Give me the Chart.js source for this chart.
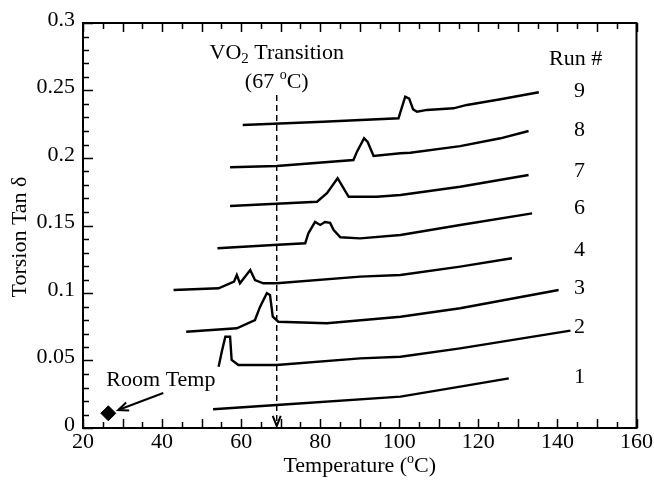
<!DOCTYPE html>
<html>
<head>
<meta charset="utf-8">
<script src="https://cdn.jsdelivr.net/npm/chart.js@4/dist/chart.umd.min.js"></script>
<style>
	html, body { margin: 0; padding: 0; background: #fff; }
	#wrap { width: 654px; height: 480px; }
</style>
</head>
<body>
<div id="wrap"><canvas id="chart-torsion"></canvas></div>
<script>
// Temperature (°C) and torsion tan δ readings for each run
const RUN1_T = [52.9, 69, 100.3, 115.4, 127.7];
const RUN1_V = [0.0139, 0.017, 0.0232, 0.0306, 0.0368];

const RUN2_T = [54.3, 55.1, 56, 57.2, 57.6, 59.3, 69, 90.1, 100.3, 115.4, 143.3];
const RUN2_V = [0.0454, 0.0565, 0.0676, 0.0676, 0.0504, 0.0467, 0.0467, 0.0516, 0.0528, 0.059, 0.0721];

const RUN3_T = [46.1, 58.9, 63.5, 64.8, 66.5, 67.3, 68, 69.4, 81.7, 100.3, 115.4, 140.3];
const RUN3_V = [0.0713, 0.0739, 0.08, 0.0899, 0.0998, 0.0985, 0.0824, 0.0787, 0.0776, 0.0824, 0.0887, 0.1022];

const RUN4_T = [42.9, 54.3, 58.2, 58.9, 59.7, 62.3, 63.5, 65.6, 69, 90.1, 100.3, 115.4, 128.5];
const RUN4_V = [0.1022, 0.1035, 0.1084, 0.1133, 0.1072, 0.117, 0.1096, 0.1072, 0.1072, 0.1121, 0.1133, 0.1195, 0.1257];

const RUN6_T = [54, 68.2, 76.2, 77, 78.7, 80, 81.2, 82.5, 83.4, 85.1, 90.1, 100.3, 115.4, 133.6];
const RUN6_V = [0.1331, 0.1356, 0.1368, 0.1442, 0.1526, 0.1504, 0.1526, 0.1519, 0.1467, 0.1413, 0.1405, 0.143, 0.1504, 0.159];

const RUN7_T = [57.2, 79.2, 81.7, 84.4, 85.7, 87.2, 94.3, 100.3, 115.4, 132.7];
const RUN7_V = [0.1644, 0.1676, 0.1739, 0.185, 0.1787, 0.1713, 0.1713, 0.1726, 0.1787, 0.1874];

const RUN8_T = [57.2, 69, 88.4, 89.3, 91.1, 92, 93.5, 100.3, 102.8, 115.4, 125.6, 132.7];
const RUN8_V = [0.1931, 0.1941, 0.1985, 0.2047, 0.2146, 0.2119, 0.2015, 0.2035, 0.2039, 0.2088, 0.2146, 0.22];

const RUN9_T = [60.4, 80.7, 99.8, 100.5, 101.5, 102.5, 103.5, 104.5, 107, 113.7, 117.1, 125.6, 135.3];
const RUN9_V = [0.2244, 0.2269, 0.2294, 0.236, 0.2454, 0.244, 0.236, 0.2343, 0.2356, 0.2368, 0.2393, 0.2435, 0.2487];

// Room temperature point and its pointer
const ROOM_T = [26.4];
const ROOM_V = [0.0109];
const ROOM_ARROW_T = [40.3, 28.9];
const ROOM_ARROW_V = [0.0259, 0.0133];

// VO2 transition marker
const VO2_T = [69, 69];
const VO2_V = [0.2467, 0.0015];

// Run labels at the right
const RUN_LABELS = ["9", "8", "7", "6", "4", "3", "2", "1"];
const RUN_LABEL_V = [0.2491, 0.2207, 0.1899, 0.1627, 0.1319, 0.1035, 0.0745, 0.0375];
const RUN_LABEL_T = 145.6;

// Axis ticks
const X_TICKS = [20, 40, 60, 80, 100, 120, 140, 160];
const Y_TICKS = [0, 0.05, 0.1, 0.15, 0.2, 0.25, 0.3];

const FONT = "'Liberation Serif', 'Times New Roman', serif";
const FONT_SIZE = 22;
const INK = "#000";

const toPoints = (xs, ys) => xs.map((x, i) => ({ x: x, y: ys[i] }));

const runLine = (label, xs, ys) => ({
	label: "Run " + label,
	data: toPoints(xs, ys),
	borderColor: INK,
	borderWidth: 2.4,
	pointRadius: 0,
	tension: 0,
	fill: false,
});

const CHART_DATA = {
	datasets: [
		runLine("1", RUN1_T, RUN1_V),
		runLine("2", RUN2_T, RUN2_V),
		runLine("3", RUN3_T, RUN3_V),
		runLine("4", RUN4_T, RUN4_V),
		runLine("6", RUN6_T, RUN6_V),
		runLine("7", RUN7_T, RUN7_V),
		runLine("8", RUN8_T, RUN8_V),
		runLine("9", RUN9_T, RUN9_V),
		{
			label: "VO2 Transition",
			data: toPoints(VO2_T, VO2_V),
			borderColor: INK,
			borderWidth: 1.5,
			borderDash: [6, 4],
			pointRadius: 0,
		},
		{
			label: "Room Temp arrow",
			data: toPoints(ROOM_ARROW_T, ROOM_ARROW_V),
			borderColor: INK,
			borderWidth: 2,
			pointRadius: 0,
		},
		{
			label: "Room Temp",
			data: toPoints(ROOM_T, ROOM_V),
			showLine: false,
			pointStyle: "rectRot",
			pointRadius: 7.5,
			backgroundColor: INK,
			borderColor: INK,
		},
	],
};

// Frame, inward ticks and annotation text
const decorations = {
	id: "decorations",
	afterDraw(chart) {
		const { ctx, chartArea: area, scales } = chart;
		const xs = scales.x;
		const ys = scales.y;
		ctx.save();
		ctx.strokeStyle = INK;
		ctx.fillStyle = INK;

		// frame
		ctx.lineWidth = 2;
		ctx.strokeRect(area.left, area.top, area.right - area.left, area.bottom - area.top);

		// inward ticks
		ctx.lineWidth = 1.5;
		ctx.beginPath();
		for (let t = 20; t <= 160; t += 5) {
			const px = Math.round(xs.getPixelForValue(t)) + 0.5;
			const len = t % 10 === 0 ? 9 : 6;
			ctx.moveTo(px, area.bottom);
			ctx.lineTo(px, area.bottom - len);
			ctx.moveTo(px, area.top);
			ctx.lineTo(px, area.top + len);
		}
		for (let i = 0; i <= 30; i++) {
			const py = Math.round(ys.getPixelForValue(i / 100)) + 0.5;
			const len = i % 5 === 0 ? 10 : 6;
			ctx.moveTo(area.left, py);
			ctx.lineTo(area.left + len, py);
		}
		ctx.stroke();

		// arrow heads
		ctx.lineWidth = 2;
		const tipX = xs.getPixelForValue(VO2_T[1]);
		const tipY = ys.getPixelForValue(VO2_V[1]);
		ctx.beginPath();
		ctx.moveTo(tipX - 4, tipY - 10);
		ctx.lineTo(tipX, tipY);
		ctx.lineTo(tipX + 4, tipY - 10);
		ctx.stroke();

		const ax0 = xs.getPixelForValue(ROOM_ARROW_T[0]);
		const ay0 = ys.getPixelForValue(ROOM_ARROW_V[0]);
		const ax1 = xs.getPixelForValue(ROOM_ARROW_T[1]);
		const ay1 = ys.getPixelForValue(ROOM_ARROW_V[1]);
		const ang = Math.atan2(ay1 - ay0, ax1 - ax0);
		ctx.beginPath();
		ctx.moveTo(ax1 - 11 * Math.cos(ang - 0.4), ay1 - 11 * Math.sin(ang - 0.4));
		ctx.lineTo(ax1, ay1);
		ctx.lineTo(ax1 - 11 * Math.cos(ang + 0.4), ay1 - 11 * Math.sin(ang + 0.4));
		ctx.stroke();

		// text
		ctx.font = FONT_SIZE + "px " + FONT;
		ctx.textBaseline = "middle";

		ctx.textAlign = "center";
		RUN_LABELS.forEach((lab, i) => {
			ctx.fillText(lab, xs.getPixelForValue(RUN_LABEL_T), ys.getPixelForValue(RUN_LABEL_V[i]));
		});
		ctx.fillText("Run #", xs.getPixelForValue(144.6), ys.getPixelForValue(0.2733));
		ctx.fillText("Room Temp", xs.getPixelForValue(39.7), ys.getPixelForValue(0.0356));

		// text with sub/superscripts, laid out piece by piece
		const drawPieces = (pieces, cx, cy) => {
			const widths = pieces.map((p) => {
				ctx.font = p.size + "px " + FONT;
				return ctx.measureText(p.text).width;
			});
			let x = cx - widths.reduce((a, b) => a + b, 0) / 2;
			ctx.textAlign = "left";
			pieces.forEach((p, i) => {
				ctx.font = p.size + "px " + FONT;
				ctx.fillText(p.text, x, cy + (p.dy || 0));
				x += widths[i];
			});
		};
		const vx = xs.getPixelForValue(69);
		drawPieces([
			{ text: "VO", size: FONT_SIZE },
			{ text: "2", size: 15, dy: 6 },
			{ text: " Transition", size: FONT_SIZE },
		], vx, ys.getPixelForValue(0.2778));
		drawPieces([
			{ text: "(67 ", size: FONT_SIZE },
			{ text: "o", size: 14, dy: -7 },
			{ text: "C)", size: FONT_SIZE },
		], vx, ys.getPixelForValue(0.2563));

		drawPieces([
			{ text: "Temperature (", size: FONT_SIZE },
			{ text: "o", size: 14, dy: -7 },
			{ text: "C)", size: FONT_SIZE },
		], (area.left + area.right) / 2, 466);

		ctx.save();
		ctx.translate(20, 237);
		ctx.rotate(-Math.PI / 2);
		ctx.textAlign = "center";
		ctx.font = FONT_SIZE + "px " + FONT;
		ctx.fillText("Torsion Tan \u03b4", 0, 0);
		ctx.restore();

		ctx.restore();
	},
};

const CHART_CONFIG = {
	type: "line",
	data: CHART_DATA,
	plugins: [decorations],
	options: {
		responsive: false,
		animation: false,
		layout: {
			padding: { top: 23, right: 17, left: 0, bottom: 0 },
		},
		scales: {
			x: {
				type: "linear",
				min: 20,
				max: 160,
				border: { display: false },
				grid: { display: false, drawTicks: false },
				afterBuildTicks: (scale) => {
					scale.ticks = X_TICKS.map((v) => ({ value: v }));
				},
				afterFit: (scale) => {
					scale.height = 52;
				},
				ticks: {
					color: INK,
					font: { family: FONT, size: FONT_SIZE },
					padding: 1,
					maxRotation: 0,
				},
			},
			y: {
				type: "linear",
				min: 0,
				max: 0.3,
				border: { display: false },
				grid: { display: false, drawTicks: false },
				afterBuildTicks: (scale) => {
					scale.ticks = Y_TICKS.map((v) => ({ value: v }));
				},
				afterFit: (scale) => {
					scale.width = 83;
				},
				ticks: {
					color: INK,
					font: { family: FONT, size: FONT_SIZE },
					padding: 8,
					labelOffset: -3,
					callback: (value) => String(Math.round(value * 100) / 100),
				},
			},
		},
		plugins: {
			legend: { display: false },
			tooltip: { enabled: false },
		},
	},
};

const canvas = document.getElementById("chart-torsion");
canvas.width = 654;
canvas.height = 480;
const torsionChart = new Chart(canvas, CHART_CONFIG);
</script>
</body>
</html>
